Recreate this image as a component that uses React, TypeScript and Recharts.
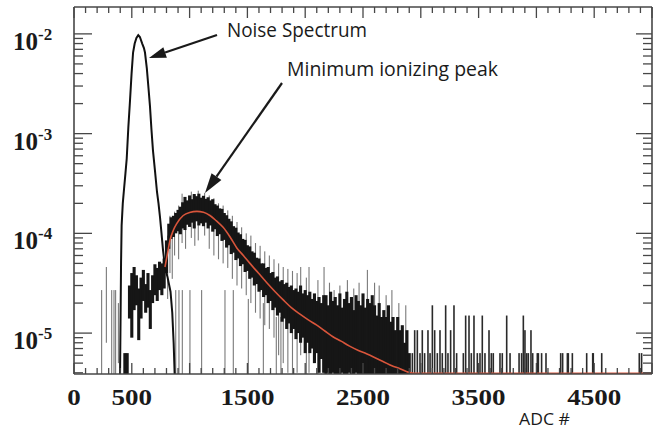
import { Bar, ComposedChart, Line, XAxis, YAxis } from 'recharts'

const W = 656
const H = 430
const U = 1e-6 // all values below are in units of 1e-6

const Y_MIN = 3.89e-6
const Y_MAX = 1.86e-2
const X_MAX = 5000

const X_LABELS = [0, 500, 1500, 2500, 3500, 4500]
const X_TICKS = Array.from({ length: 51 }, (_, i) => i * 100)
const Y_TICKS: number[] = [4e-6, 5e-6, 6e-6, 7e-6, 8e-6, 9e-6]
for (const d of [-5, -4, -3]) for (let m = 1; m <= 9; m++) Y_TICKS.push(m * 10 ** d)
Y_TICKS.push(1e-2)

// noise spectrum (adc, value)
const NOISE = [
  [398, 3.5], [403, 15], [407, 50], [412, 120], [422, 200], [433, 280], [445, 400],
  [456, 560], [470, 1150], [484, 2100], [498, 4000], [511, 6500], [525, 8000],
  [540, 9100], [556, 9700], [570, 9300], [590, 8000], [605, 7200], [614, 6500],
  [630, 4500], [645, 2800], [657, 1900], [670, 1100], [683, 680], [700, 430],
  [718, 260], [731, 200], [744, 145], [757, 100], [770, 68], [787, 46], [810, 36],
  [835, 26], [850, 16], [862, 8], [872, 3.5],
]

// landau fit (adc, value)
const FIT = [
  [787, 46], [810, 64], [830, 85], [860, 108], [890, 126], [945, 151], [1000, 162],
  [1063, 166], [1120, 163], [1176, 151], [1230, 134], [1290, 115], [1350, 92],
  [1410, 71], [1465, 60], [1522, 50], [1595, 40], [1668, 32], [1740, 26], [1810, 21.5],
  [1880, 18], [1955, 15.5], [2030, 13.5], [2100, 12], [2170, 10.5], [2240, 9.2],
  [2310, 8.3], [2384, 7.4], [2460, 6.7], [2530, 6.2], [2600, 5.7], [2673, 5.2],
  [2750, 4.7], [2820, 4.4], [2880, 4.1], [2940, 3.95], [5000, 3.95],
]

// MIP histogram error-bar spans (adc, low, high); 0 = off the bottom
const MIP_BINS = [
  [440, 0, 6.3], [460, 0, 6.3], [480, 14, 30], [500, 9, 40], [520, 17, 46],
  [540, 19, 38], [560, 8.5, 28], [580, 14, 36], [600, 21, 43], [620, 16, 31],
  [640, 18, 40], [660, 11, 27], [680, 20, 38], [700, 24, 49], [720, 21, 45],
  [740, 27, 52], [760, 24, 50], [780, 28, 56], [800, 40, 85], [820, 70, 125],
  [840, 88, 145], [860, 92, 150], [880, 100, 160], [900, 105, 172], [920, 98, 185],
  [940, 112, 205], [960, 108, 232], [980, 122, 214], [1000, 116, 240], [1020, 128, 220],
  [1040, 112, 248], [1060, 132, 236], [1080, 120, 250], [1100, 126, 228], [1120, 118, 238],
  [1140, 128, 222], [1160, 112, 230], [1180, 120, 214], [1200, 104, 220], [1220, 110, 196],
  [1240, 94, 190], [1260, 98, 178], [1280, 84, 176], [1300, 86, 160], [1320, 72, 152],
  [1340, 76, 140], [1360, 62, 132], [1380, 64, 118], [1400, 54, 114], [1420, 56, 102],
  [1440, 47, 98], [1460, 49, 88], [1480, 41, 86], [1500, 42, 76], [1520, 35, 74],
  [1540, 36, 66], [1560, 30, 64], [1580, 31, 57], [1600, 26, 56], [1620, 27, 50],
  [1640, 23, 50], [1660, 24, 45], [1680, 20, 46], [1700, 21, 40], [1720, 17, 41],
  [1740, 18, 36], [1760, 15, 37], [1780, 16, 33], [1800, 13, 34], [1820, 14, 31],
  [1840, 11, 32], [1860, 12.5, 29], [1880, 10, 30], [1900, 11, 27], [1920, 8.7, 28],
  [1940, 10, 26], [1960, 8, 30], [1980, 9, 25], [2000, 6.3, 27], [2020, 8, 24],
  [2040, 6.3, 26], [2060, 7, 22], [2080, 5, 25], [2100, 6.3, 21], [2120, 4, 23],
  [2140, 5.5, 20], [2160, 4, 24], [2180, 0, 24], [2200, 4, 19], [2220, 0, 26],
  [2240, 4, 21], [2260, 0, 23], [2280, 3, 19], [2300, 0, 25], [2320, 4, 18],
  [2340, 0, 22], [2360, 0, 26], [2380, 4, 20], [2400, 0, 23], [2420, 0, 17],
  [2440, 4, 24], [2460, 0, 21], [2480, 0, 19], [2500, 0, 25], [2520, 0, 18],
  [2540, 0, 22], [2560, 0, 20], [2580, 0, 24], [2600, 0, 19], [2620, 0, 15],
  [2640, 0, 20], [2660, 0, 14.5], [2680, 0, 17], [2700, 0, 14.5], [2720, 0, 19],
  [2740, 0, 13], [2760, 0, 14.5], [2780, 0, 10.7], [2800, 0, 14.5], [2820, 0, 10.7],
  [2840, 0, 12], [2860, 0, 8], [2880, 0, 10.7], [2900, 0, 6.3],
]

// thin grey error bars sticking out of the band, and lone bins
const WHISKERS = [
  [239, 0, 27], [280, 8, 46], [326, 0, 27], [346, 0, 27], [360, 0, 27], [384, 5, 20],
  [880, 0, 27], [908, 0, 27], [937, 0, 27], [1003, 0, 27], [1104, 0, 27], [1306, 0, 27],
  [1378, 0, 27], [1508, 0, 22], [1638, 0, 20], [1750, 0, 14.5], [1790, 0, 14.5],
  [810, 22, 95], [830, 40, 150], [850, 35, 130], [870, 60, 165], [905, 55, 190],
  [935, 80, 250], [965, 70, 215], [1015, 90, 262], [1045, 75, 240], [1075, 85, 268],
  [1130, 95, 255], [1170, 70, 240], [1210, 60, 225], [1250, 55, 200], [1290, 50, 190],
  [1330, 45, 170], [1370, 35, 150], [1410, 30, 130], [1450, 28, 115], [1490, 24, 100],
  [1530, 20, 95], [1570, 16, 80], [1610, 14, 75], [1650, 12, 66], [1690, 11, 60],
  [1730, 9, 55], [1770, 6, 50], [1810, 5, 46], [1850, 4, 44], [1890, 0, 42],
  [1930, 4, 40], [1961, 6, 46], [2010, 0, 36], [2033, 4, 46], [2110, 0, 34],
  [2163, 0, 46], [2210, 0, 32], [2250, 0, 27], [2300, 0, 30], [2365, 0, 34],
  [2420, 0, 28], [2466, 0, 32], [2538, 0, 43], [2600, 0, 32], [2640, 0, 30],
  [2700, 0, 24], [2750, 0, 27], [2810, 0, 20], [2870, 0, 19],
]

// sparse tail bins
const TAIL = [
  [2927, 0, 6.3], [2947, 0, 10.7], [2970, 0, 10.7], [2993, 0, 6.3], [3013, 0, 10.7],
  [3033, 0, 6.3], [3062, 0, 10.7], [3080, 0, 6.3], [3100, 0, 19], [3120, 0, 10.7],
  [3143, 0, 6.3], [3166, 0, 10.7], [3186, 0, 6.3], [3215, 0, 19], [3235, 0, 6.3],
  [3258, 0, 10.7], [3287, 0, 19], [3310, 0, 6.3], [3368, 0, 6.3], [3388, 0, 15],
  [3417, 0, 15], [3437, 0, 6.3], [3460, 0, 15], [3489, 0, 6.3], [3512, 0, 6.3],
  [3532, 0, 15], [3555, 0, 6.3], [3590, 0, 10.7], [3610, 0, 6.3], [3627, 0, 6.3],
  [3685, 0, 6.3], [3705, 0, 6.3], [3743, 0, 15], [3772, 0, 6.3], [3850, 0, 6.3],
  [3872, 0, 6.3], [3887, 0, 15], [3901, 0, 10.7], [3916, 0, 6.3], [3930, 0, 6.3],
  [3953, 0, 10.7], [3968, 0, 6.3], [4008, 0, 6.3], [4017, 0, 6.3], [4045, 0, 6.3],
  [4083, 0, 6.3], [4210, 0, 6.3], [4227, 0, 6.3], [4268, 0, 6.3], [4276, 0, 6.3],
  [4311, 0, 6.3], [4435, 0, 6.3], [4487, 0, 6.3], [4492, 0, 6.3], [4565, 0, 6.3],
  [4890, 0, 6.3], [4910, 0, 6.3],
]

const BAR_STYLE: Record<string, { w: number; fill: string }> = {
  whisker: { w: 1.1, fill: '#7a7a7a' },
  bin: { w: 3.1, fill: '#161616' },
  tail: { w: 1.6, fill: '#2a2a2a' },
}

const toRow = (kind: string) => ([adc, lo, hi]: number[]) => ({
  adc,
  range: [Math.max(lo * U, Y_MIN), hi * U],
  kind,
})

const histData = [
  ...WHISKERS.map(toRow('whisker')),
  ...MIP_BINS.map(toRow('bin')),
  ...TAIL.map(toRow('tail')),
]
const noiseData = NOISE.map(([adc, v]) => ({ adc, v: v * U }))
const fitData = FIT.map(([adc, v]) => ({ adc, v: v * U }))

const FRAME = '#474747'
const AXIS_LINE = { stroke: FRAME, strokeWidth: 1.6 }
const SERIF = '"Liberation Serif", "Times New Roman", serif'
const SANS = '"Open Sans", "Noto Sans", sans-serif'

const isDecade = (v: number) => Math.abs(Math.log10(v) - Math.round(Math.log10(v))) < 1e-6

function HistShape(props: any) {
  const { x, y, width, height, payload } = props
  if (!height || isNaN(height)) return null
  const s = BAR_STYLE[payload.kind]
  const cx = x + width / 2
  return <rect x={cx - s.w / 2} y={y} width={s.w} height={height} fill={s.fill} />
}

function BottomTick({ x, y, payload }: any) {
  const v = payload.value
  const len = v % 500 === 0 ? 11 : 6
  const label = X_LABELS.includes(v)
  const text = String(v)
  return (
    <g>
      <line x1={x} y1={y} x2={x} y2={y - len} stroke={FRAME} strokeWidth={1.3} />
      {label && (
        <text
          x={x}
          y={y + 31}
          textAnchor="middle"
          fontFamily={SERIF}
          fontWeight="bold"
          fontSize={24}
          fill="#1a1a1a"
          textLength={text.length * 13.5}
          lengthAdjust="spacingAndGlyphs"
        >
          {text}
        </text>
      )}
    </g>
  )
}

function TopTick({ x, y, payload }: any) {
  const len = payload.value % 500 === 0 ? 11 : 6
  return <line x1={x} y1={y} x2={x} y2={y + len} stroke={FRAME} strokeWidth={1.3} />
}

function LeftTick({ x, y, payload }: any) {
  const major = isDecade(payload.value)
  const exp = Math.round(Math.log10(payload.value))
  return (
    <g>
      <line x1={x} y1={y} x2={x + (major ? 18 : 9)} y2={y} stroke={FRAME} strokeWidth={1.3} />
      {major && (
        <text x={13} y={y + 16} fontFamily={SERIF} fontWeight="bold" fontSize={25} fill="#1a1a1a">
          10
          <tspan dy={-10} fontSize={17}>
            {exp}
          </tspan>
        </text>
      )}
    </g>
  )
}

function RightTick({ x, y, payload }: any) {
  const len = isDecade(payload.value) ? 16 : 9
  return <line x1={x} y1={y} x2={x - len} y2={y} stroke={FRAME} strokeWidth={1.3} />
}

function Arrow({ x1, y1, x2, y2, head, half }: any) {
  const len = Math.hypot(x2 - x1, y2 - y1)
  const ux = (x2 - x1) / len
  const uy = (y2 - y1) / len
  const bx = x2 - ux * head
  const by = y2 - uy * head
  return (
    <g>
      <line x1={x1} y1={y1} x2={bx} y2={by} stroke="#1a1a1a" strokeWidth={2.2} />
      <polygon
        points={`${x2},${y2} ${bx - uy * half},${by + ux * half} ${bx + uy * half},${by - ux * half}`}
        fill="#1a1a1a"
      />
    </g>
  )
}

export default function App() {
  return (
    <div style={{ position: 'absolute', left: 0, top: 0, width: W, height: H, background: '#fff' }}>
      <ComposedChart width={W} height={H} data={histData} margin={{ top: 0, right: 0, bottom: 0, left: 0 }}>
        <XAxis
          xAxisId="bottom"
          dataKey="adc"
          type="number"
          domain={[0, X_MAX]}
          allowDataOverflow
          ticks={X_TICKS}
          interval={0}
          height={56}
          tickSize={0}
          tickMargin={0}
          tickLine={false}
          axisLine={AXIS_LINE}
          tick={(p: any) => <BottomTick {...p} />}
        />
        <XAxis
          xAxisId="top"
          orientation="top"
          dataKey="adc"
          type="number"
          domain={[0, X_MAX]}
          allowDataOverflow
          ticks={X_TICKS}
          interval={0}
          height={7}
          tickSize={0}
          tickMargin={0}
          tickLine={false}
          axisLine={AXIS_LINE}
          tick={(p: any) => <TopTick {...p} />}
        />
        <YAxis
          yAxisId="left"
          scale="log"
          type="number"
          domain={[Y_MIN, Y_MAX]}
          allowDataOverflow
          ticks={Y_TICKS}
          interval={0}
          width={74}
          tickSize={0}
          tickMargin={0}
          tickLine={false}
          axisLine={AXIS_LINE}
          tick={(p: any) => <LeftTick {...p} />}
        />
        <YAxis
          yAxisId="right"
          orientation="right"
          scale="log"
          type="number"
          domain={[Y_MIN, Y_MAX]}
          allowDataOverflow
          ticks={Y_TICKS}
          interval={0}
          width={4}
          tickSize={0}
          tickMargin={0}
          tickLine={false}
          axisLine={AXIS_LINE}
          tick={(p: any) => <RightTick {...p} />}
        />
        <Bar
          xAxisId="bottom"
          yAxisId="left"
          dataKey="range"
          shape={HistShape}
          isAnimationActive={false}
        />
        <Line
          xAxisId="bottom"
          yAxisId="left"
          data={noiseData}
          dataKey="v"
          stroke="#111"
          strokeWidth={2}
          dot={false}
          activeDot={false}
          isAnimationActive={false}
        />
        <Line
          xAxisId="top"
          yAxisId="right"
          data={fitData}
          dataKey="v"
          type="monotone"
          stroke="#d9553b"
          strokeWidth={1.6}
          dot={false}
          activeDot={false}
          isAnimationActive={false}
        />
      </ComposedChart>
      <svg
        width={W}
        height={H}
        style={{ position: 'absolute', left: 0, top: 0, pointerEvents: 'none' }}
      >
        <text x={227} y={37} fontFamily={SANS} fontSize={19.5} fill="#1a1a1a" textLength={140} lengthAdjust="spacingAndGlyphs">
          Noise Spectrum
        </text>
        <text x={287} y={76} fontFamily={SANS} fontSize={19.5} fill="#1a1a1a" textLength={211} lengthAdjust="spacingAndGlyphs">
          Minimum ionizing peak
        </text>
        <text x={519} y={425} fontFamily={SANS} fontSize={17} fill="#1a1a1a" textLength={51} lengthAdjust="spacingAndGlyphs">
          ADC #
        </text>
        <Arrow x1={217} y1={35} x2={149} y2={58} head={17} half={5.5} />
        <Arrow x1={282} y1={83} x2={205} y2={193} head={20} half={6} />
      </svg>
    </div>
  )
}
